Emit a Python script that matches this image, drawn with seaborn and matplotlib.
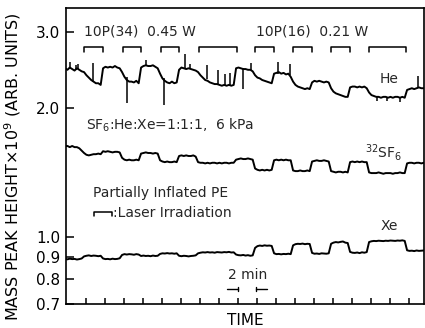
import numpy as np
import pandas as pd
import matplotlib
matplotlib.use("Agg")
import matplotlib.pyplot as plt
from matplotlib.ticker import NullLocator, FixedLocator, FixedFormatter
import seaborn as sns

# ---------------- data ----------------
# sample times (min): one reading every 0.25 min starting at -0.2 min
t_start = -0.2
t_step = 0.25

he_vals = [
    2.47, 2.45, 2.48, 2.46, 2.44, 2.47, 2.45, 2.43,
    2.42, 2.38, 2.35, 2.32, 2.30, 2.28, 2.28, 2.26,
    2.47, 2.49, 2.48, 2.49, 2.48, 2.50, 2.48, 2.47,
    2.42, 2.36, 2.32, 2.30, 2.30, 2.29, 2.31, 2.28,
    2.48, 2.50, 2.51, 2.50, 2.50, 2.51, 2.49, 2.47,
    2.40, 2.34, 2.31, 2.29, 2.28, 2.30, 2.28, 2.29,
    2.45, 2.48, 2.47, 2.46, 2.47, 2.46, 2.45, 2.44,
    2.42, 2.38, 2.35, 2.32, 2.31, 2.29, 2.28, 2.27,
    2.27, 2.26, 2.25, 2.26, 2.25, 2.26, 2.25, 2.26,
    2.47, 2.48, 2.47, 2.46, 2.46, 2.45, 2.45, 2.43,
    2.38, 2.35, 2.34, 2.32, 2.31, 2.30, 2.29, 2.28,
    2.40, 2.41, 2.42, 2.40, 2.41, 2.39, 2.40, 2.36,
    2.30, 2.26, 2.24, 2.23, 2.22, 2.21, 2.22, 2.21,
    2.29, 2.31, 2.30, 2.31, 2.30, 2.29, 2.30, 2.29,
    2.22, 2.18, 2.16, 2.15, 2.14, 2.13, 2.12, 2.12,
    2.23, 2.24, 2.24, 2.23, 2.24, 2.23, 2.24, 2.22,
    2.17, 2.14, 2.13, 2.12, 2.12, 2.11, 2.12, 2.12,
    2.11, 2.12, 2.11, 2.12, 2.12, 2.11, 2.12, 2.11,
    2.20, 2.21, 2.22, 2.21, 2.22, 2.23, 2.22, 2.22,
]

sf6_vals = [
    1.63, 1.63, 1.62, 1.63, 1.62, 1.62, 1.61, 1.59,
    1.57, 1.555, 1.55, 1.555, 1.56, 1.56, 1.565, 1.56,
    1.585, 1.58, 1.585, 1.58, 1.575, 1.58, 1.58, 1.575,
    1.53, 1.515, 1.51, 1.515, 1.51, 1.51, 1.515, 1.51,
    1.565, 1.57, 1.575, 1.57, 1.57, 1.565, 1.57, 1.565,
    1.51, 1.50, 1.495, 1.50, 1.495, 1.495, 1.50, 1.495,
    1.545, 1.55, 1.545, 1.55, 1.545, 1.545, 1.55, 1.54,
    1.495, 1.49, 1.49, 1.485, 1.49, 1.485, 1.49, 1.49,
    1.485, 1.49, 1.485, 1.49, 1.49, 1.485, 1.49, 1.49,
    1.515, 1.52, 1.525, 1.52, 1.52, 1.525, 1.52, 1.515,
    1.445, 1.435, 1.43, 1.435, 1.43, 1.435, 1.43, 1.435,
    1.51, 1.515, 1.51, 1.515, 1.51, 1.515, 1.51, 1.51,
    1.43, 1.425, 1.425, 1.43, 1.425, 1.425, 1.43, 1.425,
    1.50, 1.505, 1.51, 1.505, 1.505, 1.51, 1.505, 1.50,
    1.425, 1.42, 1.415, 1.42, 1.42, 1.415, 1.42, 1.415,
    1.495, 1.50, 1.495, 1.50, 1.495, 1.50, 1.495, 1.495,
    1.415, 1.41, 1.41, 1.41, 1.415, 1.41, 1.405, 1.41,
    1.41, 1.41, 1.405, 1.41, 1.41, 1.415, 1.41, 1.41,
    1.485, 1.49, 1.49, 1.485, 1.49, 1.49, 1.485, 1.49,
]

xe_vals = [
    0.891, 0.889, 0.892, 0.890, 0.891, 0.888, 0.890, 0.893,
    0.903, 0.906, 0.908, 0.905, 0.907, 0.906, 0.904, 0.906,
    0.893, 0.890, 0.891, 0.889, 0.892, 0.890, 0.891, 0.894,
    0.910, 0.914, 0.912, 0.914, 0.913, 0.911, 0.914, 0.912,
    0.905, 0.907, 0.905, 0.906, 0.904, 0.907, 0.905, 0.906,
    0.915, 0.918, 0.917, 0.919, 0.917, 0.918, 0.916, 0.918,
    0.906, 0.904, 0.906, 0.905, 0.903, 0.905, 0.906, 0.908,
    0.918, 0.921, 0.923, 0.922, 0.924, 0.922, 0.923, 0.921,
    0.924, 0.923, 0.922, 0.924, 0.923, 0.925, 0.922, 0.923,
    0.912, 0.909, 0.908, 0.910, 0.907, 0.909, 0.906, 0.908,
    0.945, 0.954, 0.957, 0.955, 0.958, 0.956, 0.957, 0.955,
    0.918, 0.914, 0.915, 0.913, 0.915, 0.914, 0.916, 0.914,
    0.958, 0.964, 0.966, 0.965, 0.967, 0.964, 0.966, 0.965,
    0.920, 0.916, 0.917, 0.915, 0.918, 0.917, 0.916, 0.918,
    0.966, 0.972, 0.975, 0.973, 0.976, 0.978, 0.972, 0.970,
    0.925, 0.921, 0.920, 0.922, 0.919, 0.923, 0.921, 0.924,
    0.975, 0.979, 0.981, 0.980, 0.982, 0.981, 0.980, 0.982,
    0.981, 0.983, 0.982, 0.981, 0.983, 0.982, 0.984, 0.981,
    0.933, 0.930, 0.931, 0.929, 0.932, 0.930, 0.931, 0.932,
]

# He spikes: time (min), base level, spike tip
he_spike_t = [0.3, 0.9, 1.2, 2.7, 6.3, 8.3, 10.2, 12.4, 12.95, 14.7, 15.9, 16.6, 17.15,
              18.5, 19.4, 22.2, 23.5, 32.6, 33.7, 35.1, 36.95]
he_spike_base = [2.46, 2.45, 2.46, 2.29, 2.36, 2.50, 2.34, 2.47, 2.46, 2.33, 2.27, 2.26, 2.26,
                 2.47, 2.45, 2.40, 2.38, 2.13, 2.12, 2.12, 2.22]
he_spike_tip = [2.55, 2.52, 2.53, 2.54, 2.05, 2.58, 2.03, 2.67, 2.53, 2.52, 2.45, 2.40, 2.41,
                2.21, 2.54, 2.56, 2.53, 2.07, 2.07, 2.06, 2.37]

# laser irradiation periods (min)
irr_start = [1.8, 5.85, 9.85, 13.85, 19.8, 23.8, 27.8, 31.8]
irr_end = [3.8, 7.8, 11.8, 17.85, 21.8, 25.8, 29.8, 35.7]

y_ticks = [0.7, 0.8, 0.9, 1.0, 2.0, 3.0]
y_tick_labels = ["0.7", "0.8", "0.9", "1.0", "2.0", "3.0"]
x_ticks = list(range(2, 37, 2))

# ---------------- figure ----------------
sns.set_theme(style="ticks")
plt.rcParams["font.family"] = ["DejaVu Sans"]

fig = plt.figure(figsize=(4.25, 3.28), dpi=100)
ax = fig.add_axes([66 / 425, 24 / 328, (424 - 66) / 425, (304 - 8) / 328])

n = len(he_vals)
t = t_start + t_step * np.arange(n)
df = pd.DataFrame({"t": t, "He": he_vals, "SF6": sf6_vals, "Xe": xe_vals})

for col in ["He", "SF6", "Xe"]:
    sns.lineplot(data=df, x="t", y=col, ax=ax, color="black", lw=1.4,
                 estimator=None, legend=False)

ax.vlines(he_spike_t, he_spike_base, he_spike_tip, color="black", lw=1.1)

ax.set_yscale("log")
ax.set_xlim(-0.1, 37.58)
ax.set_ylim(0.7, 3.41)

ax.yaxis.set_major_locator(FixedLocator(y_ticks))
ax.yaxis.set_major_formatter(FixedFormatter(y_tick_labels))
ax.yaxis.set_minor_locator(NullLocator())
ax.xaxis.set_major_locator(FixedLocator(x_ticks))
ax.xaxis.set_minor_locator(NullLocator())
ax.set_xticklabels([])

ax.tick_params(axis="y", direction="in", length=6, width=1.1, labelsize=11,
               pad=4, colors="black")
ax.tick_params(axis="x", direction="in", length=4, width=1.1, colors="black")
for s in ax.spines.values():
    s.set_visible(True)
    s.set_color("black")
    s.set_linewidth(1.2)

ax.set_xlabel("TIME", fontsize=11, labelpad=3, color="black")
ax.set_ylabel("")
fig.text(13 / 425, 1 - 167 / 328, "MASS PEAK HEIGHT\u00d710$^9$ (ARB. UNITS)",
         rotation=90, ha="center", va="center", fontsize=11.5, color="black")

# irradiation brackets at the top
br_top, br_leg = 2.77, 2.70
for s0, s1 in zip(irr_start, irr_end):
    ax.plot([s0, s0, s1, s1], [br_leg, br_top, br_top, br_leg], color="black", lw=1.1)

# annotations
fs = 10
ax.text(1.8, 3.0, "10P(34)  0.45 W", fontsize=fs, va="center", ha="left")
ax.text(19.9, 3.0, "10P(16)  0.21 W", fontsize=fs, va="center", ha="left")
ax.text(33.9, 2.33, "He", fontsize=fs, va="center", ha="center")
ax.text(2.0, 1.825, "SF$_6$:He:Xe=1:1:1,  6 kPa", fontsize=fs, va="center", ha="left")
ax.text(31.4, 1.57, "$^{32}$SF$_6$", fontsize=fs, va="center", ha="left")
ax.text(2.7, 1.268, "Partially Inflated PE", fontsize=fs, va="center", ha="left")
ax.plot([2.84, 2.84, 4.7, 4.7], [1.121, 1.145, 1.145, 1.121], color="black", lw=1.1)
ax.text(4.8, 1.139, ":Laser Irradiation", fontsize=fs, va="center", ha="left")
ax.text(33.9, 1.063, "Xe", fontsize=fs, va="center", ha="center")
ax.text(19.0, 0.818, "2 min", fontsize=fs, va="center", ha="center")
ax.plot([16.84, 18.0], [0.7586, 0.7586], color="black", lw=1.0)
ax.plot([18.0, 18.0], [0.7488, 0.7658], color="black", lw=1.0)
ax.plot([19.9, 21.05], [0.7586, 0.7586], color="black", lw=1.0)
ax.plot([19.9, 19.9], [0.7488, 0.7658], color="black", lw=1.0)

fig.savefig("out.png", dpi=100, facecolor="white")
